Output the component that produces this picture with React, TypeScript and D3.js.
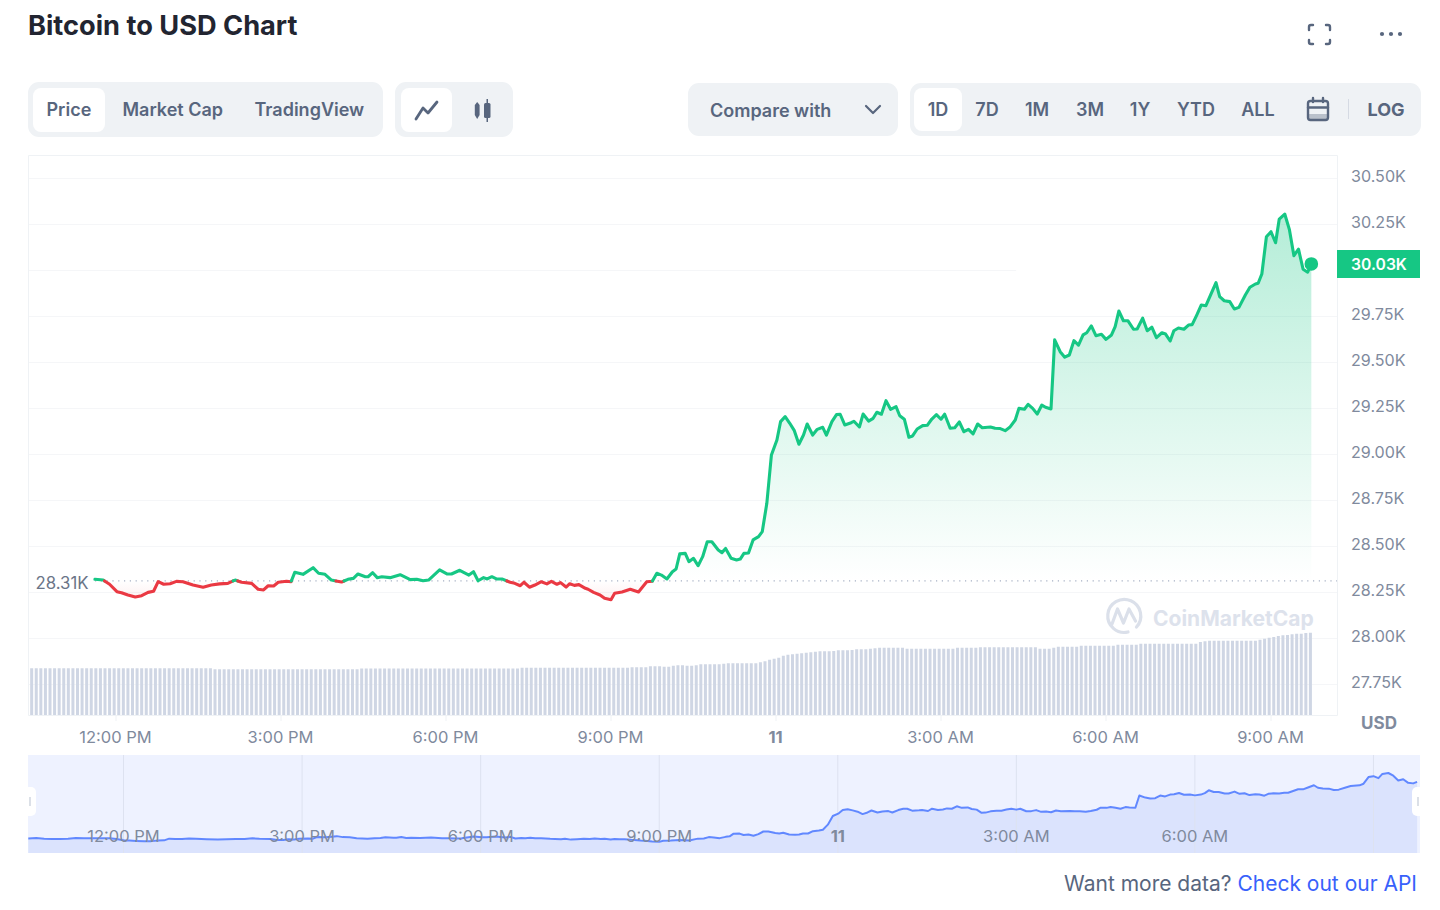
import React from "react";
import * as d3 from "d3";

// minutes after 11:00 AM of each price sample
const sampleMinutes = [37,46,53,61,66,73,81,88,95,101,106,112,119,126,133,144,155,164,173,182,190,197,208,215,221,226,232,237,246,251,255,264,275,281,288,295,306,313,319,324,332,335,340,345,350,359,370,381,388,395,401,413,421,426,435,445,450,455,461,465,470,475,481,490,495,501,505,511,517,524,530,535,541,545,551,555,560,565,572,575,581,588,593,600,604,612,621,630,639,645,650,655,661,667,671,675,681,685,690,695,700,705,710,717,721,725,731,737,741,745,750,755,761,765,770,775,781,785,790,795,800,805,810,814,820,825,831,835,841,846,850,855,862,865,871,875,881,886,890,895,900,905,911,915,920,925,929,934,940,945,950,955,960,964,970,975,980,985,990,995,1000,1005,1014,1019,1024,1030,1035,1041,1045,1051,1055,1060,1065,1070,1074,1080,1084,1090,1095,1100,1105,1110,1115,1119,1124,1129,1135,1140,1146,1150,1154,1159,1164,1170,1174,1180,1185,1190,1195,1201,1205,1210,1214,1219,1225,1230,1234,1239,1244,1249,1254,1260,1264,1269,1275,1280,1285,1292,1297,1303,1306,1310,1315,1320,1325,1329,1335,1340,1345,1350,1355,1360,1364];
const samplePrices = [28319,28315,28292,28252,28246,28234,28223,28230,28248,28254,28306,28292,28295,28308,28306,28288,28276,28288,28294,28297,28315,28303,28297,28265,28261,28284,28283,28303,28308,28306,28357,28346,28382,28352,28346,28315,28304,28319,28324,28348,28333,28333,28355,28328,28333,28328,28344,28317,28319,28311,28315,28370,28348,28348,28368,28342,28360,28311,28328,28321,28333,28321,28321,28303,28297,28284,28303,28276,28288,28306,28294,28308,28292,28301,28277,28295,28286,28290,28270,28265,28248,28234,28216,28208,28243,28250,28265,28250,28306,28308,28352,28342,28321,28360,28375,28457,28460,28415,28433,28393,28442,28523,28523,28478,28464,28487,28433,28424,28429,28460,28462,28533,28551,28578,28732,28995,29076,29176,29203,29167,29127,29053,29103,29163,29103,29134,29145,29103,29176,29214,29216,29158,29170,29178,29147,29217,29179,29194,29227,29216,29290,29243,29257,29208,29189,29091,29098,29136,29154,29156,29190,29214,29189,29216,29140,29143,29174,29121,29134,29109,29163,29143,29147,29140,29139,29127,29145,29185,29248,29243,29270,29248,29217,29266,29254,29245,29620,29556,29526,29538,29616,29592,29647,29659,29696,29643,29651,29623,29647,29692,29777,29724,29724,29678,29679,29738,29670,29689,29632,29659,29652,29614,29670,29685,29678,29701,29703,29755,29810,29806,29864,29931,29855,29833,29828,29788,29797,29864,29906,29924,29928,29978,30181,30208,30148,30277,30304,30221,30078,30113,30004,29988,30033];

// earlier samples only seen in the overview strip
const earlierMinutes = [-36,-28,-20,-12,-4,4,12,20,28,33];
const earlierPrices = [28312,28322,28305,28298,28296,28304,28326,28316,28320,28318];

const openPrice = 28310;
const lastPrice = 30033;

// 24h volume in billions, one bar per 5 minutes
const volumes = [
18.7,18.7,18.7,18.7,18.7,18.7,18.7,18.7,18.7,18.7,18.7,18.7,18.7,18.7,18.7,18.7,18.7,18.7,18.7,18.7,
18.7,18.7,18.7,18.7,18.7,18.7,18.7,18.7,18.7,18.7,18.7,18.7,18.7,18.7,18.7,18.7,18.7,18.7,18.7,18.7,
18.3,18.3,18.3,18.3,18.3,18.3,18.3,18.3,18.3,18.3,18.3,18.3,18.3,18.3,18.3,18.3,
18.3,18.3,18.3,18.3,18.3,18.3,18.3,18.3,18.3,18.3,18.3,18.3,18.3,18.3,18.3,18.3,
18.6,18.6,18.6,18.6,18.6,18.6,18.6,18.6,18.6,18.6,18.6,18.6,18.6,18.6,18.6,18.6,18.6,18.6,
18.6,18.6,18.6,18.6,18.6,18.6,18.6,18.6,18.6,18.6,18.6,18.6,18.6,18.6,18.6,18.6,18.6,
18.9,18.9,18.9,18.9,18.9,18.9,18.9,18.9,18.9,18.9,18.9,18.9,18.9,18.9,18.9,18.9,18.9,18.9,18.9,18.9,18.9,18.9,18.9,18.9,
19.1,19.1,19.1,19.1,19.5,19.5,19.5,19.3,19.3,19.7,19.9,19.9,19.7,19.7,19.9,20.3,20.3,20.3,20.3,20.3,20.5,20.7,20.7,20.7,20.7,20.7,20.7,20.7,
21.1,21.5,22.1,22.5,22.9,23.7,24.1,24.3,24.5,24.7,24.9,25.1,25.3,25.5,25.5,25.5,25.6,25.9,25.9,25.9,26.0,26.3,26.3,26.3,26.5,26.7,26.9,26.9,26.9,26.9,26.9,26.9,
26.5,26.5,26.5,26.5,26.5,26.5,26.5,26.5,26.5,26.5,26.5,26.9,26.9,26.9,26.9,26.9,
27.1,27.1,27.1,27.1,27.1,27.1,27.1,27.1,27.1,27.1,27.1,27.1,27.1,26.5,26.5,26.5,26.9,27.3,27.3,27.3,27.3,27.3,
27.7,27.7,27.7,27.7,27.7,27.7,27.7,27.7,28.1,28.1,28.1,28.1,28.1,
28.5,28.5,28.5,28.5,28.5,28.5,28.5,28.5,28.5,28.5,28.5,28.5,28.5,29.2,29.5,
29.7,29.7,29.7,29.7,29.7,29.7,29.7,29.7,29.7,29.7,29.7,30.1,30.5,30.9,31.2,31.6,31.9,32.0,32.3,32.5,32.5,32.8,32.9,
];
const firstVolumeMinute = -32;
const volumeStep = 5;

const priceTicks = [30500,30250,29750,29500,29250,29000,28750,28500,28250,28000,27750];
const priceTickLabels = ["30.50K","30.25K","29.75K","29.50K","29.25K","29.00K","28.75K","28.50K","28.25K","28.00K","27.75K"];
const partialGridPrice = 30000;
const partialGridEndMinute = 1042;

const timeTicks = [60,240,420,600,780,960,1140,1320];
const timeLabels = ["12:00 PM","3:00 PM","6:00 PM","9:00 PM","11","3:00 AM","6:00 AM","9:00 AM"];
const overviewLabels = ["12:00 PM","3:00 PM","6:00 PM","9:00 PM","11","3:00 AM","6:00 AM",""];

const topTabs = [{ t: "Price", x: 46.5 }, { t: "Market Cap", x: 122.5 }, { t: "TradingView", x: 254.5 }];
const rangeTabs = [{ t: "1D", x: 938 }, { t: "7D", x: 987 }, { t: "1M", x: 1037 }, { t: "3M", x: 1090 }, { t: "1Y", x: 1140 }, { t: "YTD", x: 1196 }, { t: "ALL", x: 1258 }];

const FONT = "Inter, 'Noto Sans', sans-serif";
const GREEN = "#16c784";
const RED = "#ea3943";
const GRID = "#f5f6f8";
const BORDER = "#eff2f5";
const BTN = "#eff2f5";
const BTXT = "#58667e";
const AXIS = "#808a9d";

type Pt = { m: number; p: number };

// Split the series into same-side runs, cutting each crossing at the opening price.
function sideRuns(points: Pt[], level: number) {
  const runs: { up: boolean; pts: Pt[] }[] = [];
  points.forEach((d, i) => {
    const up = d.p >= level;
    const last = runs[runs.length - 1];
    if (!last) {
      runs.push({ up, pts: [d] });
    } else if (last.up === up) {
      last.pts.push(d);
    } else {
      const a = points[i - 1];
      const cross = { m: a.m + ((level - a.p) / (d.p - a.p)) * (d.m - a.m), p: level };
      last.pts.push(cross);
      runs.push({ up, pts: [cross, d] });
    }
  });
  return runs;
}

export default function App() {
  const x = d3.scaleLinear().domain([0, 1440]).range([61, 1381]);
  const y = d3.scaleLinear().domain([27750, 30500]).range([684, 178]);
  const yVol = d3.scaleLinear().domain([0, 40]).range([715, 615]);
  const base = y(openPrice);

  const pts: Pt[] = sampleMinutes.map((m, i) => ({ m, p: samplePrices[i] }));
  const lineGen = d3.line<Pt>().x((d) => x(d.m)).y((d) => y(d.p));
  const area = d3.area<Pt>().x((d) => x(d.m)).y0(base).y1((d) => y(d.p))(pts)!;
  const runs = sideRuns(pts, openPrice);

  const mx = d3.scaleLinear().domain([0, 1440]).range([64, 1492.5]);
  const my = d3.scaleLinear().domain([openPrice, 30304]).range([838.5, 773]);
  const miniPts: Pt[] = [...earlierMinutes.map((m, i) => ({ m, p: earlierPrices[i] })), ...pts];
  const miniLine = d3.line<Pt>().x((d) => mx(d.m)).y((d) => my(d.p))(miniPts)!;
  const miniArea = d3.area<Pt>().x((d) => mx(d.m)).y0(853).y1((d) => my(d.p))(miniPts)!;

  return (
    <svg width={1440} height={910} style={{ position: "absolute", left: 0, top: 0, background: "#fff" }} fontFamily={FONT}>
      <defs>
        <linearGradient id="up" gradientUnits="userSpaceOnUse" x1={0} x2={0} y1={y(30304)} y2={base}>
          <stop offset="0" stopColor={GREEN} stopOpacity={0.32} />
          <stop offset="1" stopColor={GREEN} stopOpacity={0} />
        </linearGradient>
        <linearGradient id="down" gradientUnits="userSpaceOnUse" x1={0} x2={0} y1={base} y2={y(28208)}>
          <stop offset="0" stopColor={RED} stopOpacity={0} />
          <stop offset="1" stopColor={RED} stopOpacity={0.08} />
        </linearGradient>
        <clipPath id="above"><rect x={0} y={0} width={1440} height={base} /></clipPath>
        <clipPath id="below"><rect x={0} y={base} width={1440} height={910 - base} /></clipPath>
      </defs>

      <text x={28} y={34.5} fontSize={27.2} fontWeight={700} fill="#222531">Bitcoin to USD Chart</text>

      {/* header icons */}
      <g fill="none" stroke={BTXT} strokeWidth={2.4} strokeLinecap="round" strokeLinejoin="round">
        <path d="M1309 30v-3a2 2 0 0 1 2-2h2M1326 25h2a2 2 0 0 1 2 2v3M1330 40v2a2 2 0 0 1-2 2h-2M1313 44h-2a2 2 0 0 1-2-2v-2" />
      </g>
      {[1382, 1391, 1400].map((c) => <circle key={c} cx={c} cy={34} r={2.1} fill={BTXT} />)}

      {/* button groups */}
      <rect x={28} y={82} width={355} height={55} rx={11} fill={BTN} />
      <rect x={33} y={88} width={72} height={44} rx={8} fill="#fff" />
      {topTabs.map((b) => <text key={b.t} x={b.x} y={115.5} fontSize={18} fontWeight={600} fill={BTXT}>{b.t}</text>)}

      <rect x={395} y={82} width={118} height={55} rx={11} fill={BTN} />
      <rect x={401} y={88} width={51} height={44} rx={8} fill="#fff" />
      <path d="M416 119 L423 108 L428 113 L437 102" fill="none" stroke={BTXT} strokeWidth={2.8} strokeLinecap="round" strokeLinejoin="round" />
      <g fill={BTXT}>
        <path d="M477.2 102 L479.6 105 V115 L477.2 119 L474.8 115 V105 Z" />
        <rect x={484} y={103} width={6.5} height={15} rx={1.5} />
        <rect x={486.5} y={99} width={1.5} height={23} />
      </g>

      <rect x={688} y={83} width={210} height={53} rx={11} fill={BTN} />
      <text x={710} y={116.5} fontSize={18} fontWeight={600} fill={BTXT}>Compare with</text>
      <path d="M866 106 L873 113 L880 106" fill="none" stroke={BTXT} strokeWidth={2.2} strokeLinecap="round" strokeLinejoin="round" />

      <rect x={910} y={83} width={511} height={53} rx={11} fill={BTN} />
      <rect x={914} y={88} width={48} height={43} rx={8} fill="#fff" />
      {rangeTabs.map((b) => <text key={b.t} x={b.x} y={115.5} fontSize={18} fontWeight={600} fill={BTXT} textAnchor="middle">{b.t}</text>)}
      <g fill="none" stroke={BTXT} strokeWidth={2.4} strokeLinecap="round" strokeLinejoin="round">
        <rect x={1308} y={101} width={20} height={19} rx={2.5} />
        <path d="M1308 107.5h20M1313 98v4M1323 98v4" />
      </g>
      <path d="M1308.5 114h19v5h-19z" fill={BTXT} opacity={0.35} />
      <line x1={1348.5} x2={1348.5} y1={99} y2={119} stroke="#d5dae3" />
      <text x={1386} y={115.5} fontSize={18} fontWeight={700} fill={BTXT} textAnchor="middle">LOG</text>

      {/* grid */}
      {priceTicks.map((t) => (
        <line key={t} x1={29} x2={1337} y1={Math.round(y(t)) + 0.5} y2={Math.round(y(t)) + 0.5} stroke={GRID} strokeWidth={1} />
      ))}
      <line x1={29} x2={x(partialGridEndMinute)} y1={Math.round(y(partialGridPrice)) + 0.5} y2={Math.round(y(partialGridPrice)) + 0.5} stroke={GRID} />

      {/* volume */}
      {volumes.map((v, i) => {
        const cx = x(firstVolumeMinute + i * volumeStep);
        return <rect key={i} x={cx - 1.5} y={yVol(v)} width={3} height={715 - yVol(v)} fill="#cfd6e4" />;
      })}

      {/* watermark */}
      <g fill="none" stroke="#dbe0ea" strokeWidth={3.2} strokeLinecap="round" strokeLinejoin="round">
        <path d="M1136.5 627 A16.5 16.5 0 1 0 1128 632" />
        <path d="M1112 624 L1117.5 609 L1123.5 623 L1129 609 L1135.5 621" />
      </g>
      <text x={1153} y={625.5} fontSize={21} fontWeight={700} fill="#dde2ec">CoinMarketCap</text>

      {/* box */}
      <path d="M28.5 155.5H1337.5V715.5H28.5Z" fill="none" stroke={BORDER} />
      {timeTicks.map((t) => <line key={t} x1={x(t)} x2={x(t)} y1={716} y2={721} stroke={BORDER} />)}

      {/* price */}
      <path d={area} fill="url(#up)" clipPath="url(#above)" />
      <path d={area} fill="url(#down)" clipPath="url(#below)" />
      <line x1={95} x2={1337} y1={base} y2={base} stroke="#a6b0c3" strokeDasharray="1.2 4.6" strokeWidth={1.2} />
      {runs.map((r, i) => (
        <path key={i} d={lineGen(r.pts)!} fill="none" stroke={r.up ? GREEN : RED} strokeWidth={3.1} strokeLinejoin="round" strokeLinecap="round" />
      ))}
      <circle cx={x(1364)} cy={y(lastPrice)} r={6.8} fill={GREEN} />

      {/* axis labels */}
      {priceTicks.map((t, i) => (
        <text key={t} x={1351} y={y(t) + 3.5} fontSize={16.1} fill={AXIS}>{priceTickLabels[i]}</text>
      ))}
      <rect x={1337} y={250} width={83} height={28} fill={GREEN} />
      <text x={1379} y={270} fontSize={15.7} fontWeight={600} fill="#fff" textAnchor="middle">30.03K</text>
      <text x={35.5} y={588.5} fontSize={16.8} fill="#6b7588">28.31K</text>
      <text x={1379} y={728.5} fontSize={17} fontWeight={700} fill={AXIS} textAnchor="middle">USD</text>
      {timeTicks.map((t, i) => (
        <text key={t} x={x(t) - 0.5} y={742.5} fontSize={16.5} fontWeight={timeLabels[i] === "11" ? 700 : 400} fill={AXIS} textAnchor="middle">{timeLabels[i]}</text>
      ))}

      {/* overview */}
      <rect x={28} y={755} width={1392} height={98} fill="#eef2ff" />
      <path d={miniArea} fill="#dbe3fd" />
      {timeTicks.map((t) => <line key={t} x1={mx(t)} x2={mx(t)} y1={755} y2={853} stroke="#dde2f0" />)}
      <path d={miniLine} fill="none" stroke="#6188ff" strokeWidth={2} strokeLinejoin="round" />
      {timeTicks.map((t, i) => (
        <text key={t} x={mx(t)} y={841.5} fontSize={16.5} fontWeight={overviewLabels[i] === "11" ? 700 : 400} fill="#808a9d" textAnchor="middle">{overviewLabels[i]}</text>
      ))}
      <path d="M28 787h3a5 5 0 0 1 5 5v19a5 5 0 0 1-5 5h-3z" fill="#fff" />
      <line x1={30} x2={30} y1={797} y2={806} stroke="#c4cbd8" strokeWidth={1.2} />
      <path d="M1420 787h-3a5 5 0 0 0-5 5v19a5 5 0 0 0 5 5h3z" fill="#fff" />
      <line x1={1418} x2={1418} y1={797} y2={806} stroke="#c4cbd8" strokeWidth={1.2} />

      {/* footer */}
      <text x={1417} y={891} fontSize={21} textAnchor="end" fill="#58667e">
        Want more data? <tspan fill="#3861fb">Check out our API</tspan>
      </text>
    </svg>
  );
}
